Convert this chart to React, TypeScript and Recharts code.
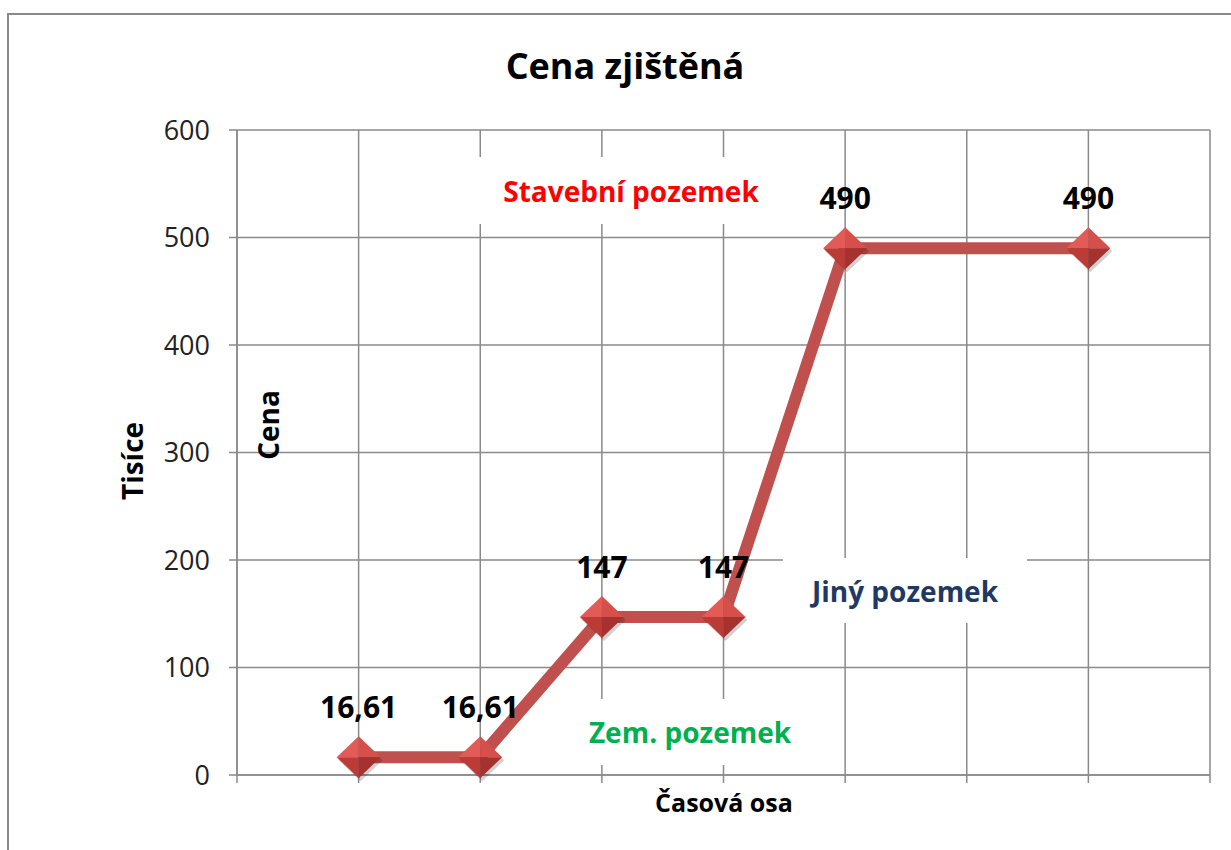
import React from "react";
import { CartesianGrid, LabelList, Line, LineChart, XAxis, YAxis } from "recharts";

// pozice na časové ose (mřížka 0..8), hodnoty v tisících
const positions = [1, 2, 3, 4, 5, 7];
const prices = [16.61, 16.61, 147, 147, 490, 490];
const xTicks = [0, 1, 2, 3, 4, 5, 6, 7, 8];
const yTicks = [0, 100, 200, 300, 400, 500, 600];

const data = positions.map((x, i) => ({ x, cena: prices[i] }));

const FONT = "'Open Sans', 'Noto Sans', sans-serif";
const GRID = "#8a8a8a";

function Diamond(props: any) {
  const { cx, cy } = props;
  if (cx == null || cy == null) return null;
  const w = 22;
  const h = 21;
  return (
    <g key={`d-${props.index}`}>
      <polygon
        points={`${cx + 2},${cy - h + 3} ${cx + w + 2},${cy + 3} ${cx + 2},${cy + h + 3} ${cx - w + 2},${cy + 3}`}
        fill="rgba(0,0,0,0.18)"
      />
      <polygon points={`${cx},${cy} ${cx},${cy - h} ${cx - w},${cy}`} fill="#e35b56" />
      <polygon points={`${cx},${cy} ${cx},${cy - h} ${cx + w},${cy}`} fill="#d74f4a" />
      <polygon points={`${cx},${cy} ${cx - w},${cy} ${cx},${cy + h}`} fill="#bb3b37" />
      <polygon points={`${cx},${cy} ${cx + w},${cy} ${cx},${cy + h}`} fill="#a5322e" />
    </g>
  );
}

const note = (text: string, color: string, box: React.CSSProperties, size = 28) => (
  <div
    style={{
      position: "absolute",
      background: "#fff",
      display: "flex",
      alignItems: "center",
      justifyContent: "center",
      fontFamily: FONT,
      fontWeight: 700,
      fontSize: size,
      color,
      whiteSpace: "nowrap",
      ...box,
    }}
  >
    {text}
  </div>
);

export default function App() {
  return (
    <div
      style={{
        position: "absolute",
        left: 0,
        top: 0,
        width: 1231,
        height: 850,
        overflow: "hidden",
        background: "#fff",
      }}
    >
      <div
        style={{
          position: "absolute",
          left: 7,
          top: 13,
          width: 1260,
          height: 880,
          border: `2px solid ${GRID}`,
        }}
      />
      <div
        style={{
          position: "absolute",
          left: 0,
          width: 1250,
          top: 41,
          textAlign: "center",
          fontFamily: FONT,
          fontWeight: 700,
          fontSize: 36,
          color: "#000",
        }}
      >
        Cena zjištěná
      </div>
      <div style={{ position: "absolute", left: 0, top: 0 }}>
        <LineChart
          width={1231}
          height={850}
          data={data}
          margin={{ top: 130, right: 21, bottom: 55, left: 157 }}
        >
          <CartesianGrid stroke={GRID} strokeWidth={1.5} />
          <XAxis
            dataKey="x"
            type="number"
            domain={[0, 8]}
            ticks={xTicks}
            tickFormatter={() => ""}
            height={20}
            axisLine={{ stroke: GRID, strokeWidth: 1.5 }}
            tickLine={{ stroke: GRID, strokeWidth: 1.5 }}
            tickSize={8}
          />
          <YAxis
            type="number"
            domain={[0, 600]}
            ticks={yTicks}
            width={80}
            axisLine={{ stroke: GRID, strokeWidth: 1.5 }}
            tickLine={{ stroke: GRID, strokeWidth: 1.5 }}
            tickSize={8}
            tickMargin={19}
            tick={{ fill: "#222", fontSize: 27, fontFamily: FONT }}
          />
          <Line
            dataKey="cena"
            stroke="#c0504d"
            strokeWidth={12}
            dot={(p: any) => <Diamond key={`dot-${p.index}`} {...p} />}
            activeDot={false}
            isAnimationActive={false}
          >
            <LabelList
              dataKey="cena"
              position="top"
              offset={39}
              formatter={(v: any) => String(v).replace(".", ",")}
              style={{ fill: "#000", fontSize: 30, fontWeight: 700, fontFamily: FONT }}
            />
          </Line>
        </LineChart>
      </div>
      {note("Stavební pozemek", "#ff0000", { left: 470, top: 157, width: 322, height: 67 })}
      {note("Jiný pozemek", "#1f3864", { left: 783, top: 558, width: 244, height: 65 })}
      {note("Zem. pozemek", "#00b050", { left: 575, top: 699, width: 230, height: 66 })}
      <div
        style={{
          position: "absolute",
          left: 132,
          top: 461,
          transform: "translate(-50%, -50%) rotate(-90deg)",
          fontFamily: FONT,
          fontWeight: 700,
          fontSize: 28,
        }}
      >
        Tisíce
      </div>
      <div
        style={{
          position: "absolute",
          left: 268,
          top: 425,
          transform: "translate(-50%, -50%) rotate(-90deg)",
          fontFamily: FONT,
          fontWeight: 700,
          fontSize: 28,
        }}
      >
        Cena
      </div>
      <div
        style={{
          position: "absolute",
          left: 724,
          top: 802,
          transform: "translate(-50%, -50%)",
          fontFamily: FONT,
          fontWeight: 700,
          fontSize: 25,
        }}
      >
        Časová osa
      </div>
    </div>
  );
}
